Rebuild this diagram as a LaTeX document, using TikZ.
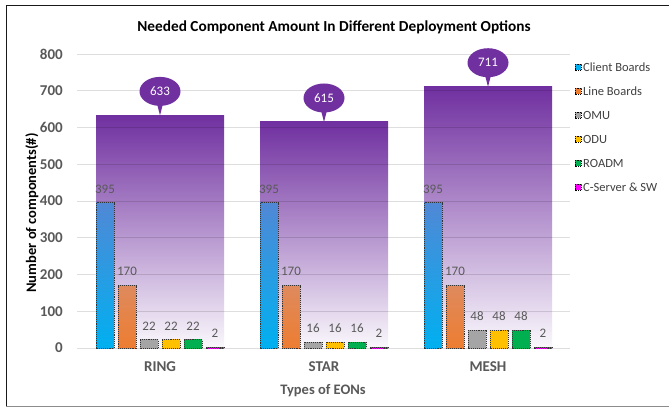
\documentclass[tikz,border=0pt]{standalone}
\usepackage{fontspec}
\setmainfont{Carlito}
\usetikzlibrary{shapes.callouts}

\definecolor{totViolet}{HTML}{7030A0}
\definecolor{totMid}{HTML}{C6B0DC}
\definecolor{totLow}{HTML}{FAF8FC}
\definecolor{txtGray}{HTML}{595959}
\definecolor{lblGray}{HTML}{404040}
\definecolor{clientTop}{HTML}{5088D6}
\definecolor{clientLow}{HTML}{00B0F0}
\definecolor{lineTop}{HTML}{DE8A5E}
\definecolor{lineLow}{HTML}{ED7D31}
\definecolor{omuCol}{HTML}{A5A5A5}
\definecolor{oduCol}{HTML}{FFC000}
\definecolor{roadmCol}{HTML}{00B050}
\definecolor{srvCol}{HTML}{FF00FF}

\tikzset{
  gridln/.style={draw=black, opacity=0.13, line width=0.9pt},
  ticklbl/.style={anchor=east, text=txtGray, inner sep=0pt,
    font=\bfseries\fontsize{15}{18}\selectfont},
  catlbl/.style={text=txtGray, inner sep=0pt, font=\bfseries\fontsize{15}{18}\selectfont},
  axttl/.style={inner sep=0pt, font=\bfseries\fontsize{14.5}{17}\selectfont},
  datalbl/.style={text=txtGray, inner sep=0pt, font=\fontsize{13}{15}\selectfont},
  legtxt/.style={anchor=west, text=lblGray, inner sep=0pt, font=\fontsize{12.5}{14}\selectfont},
  totbar/.style={top color=totViolet, middle color=totMid, bottom color=totLow},
  barrim/.style={draw=black!80, densely dotted, line width=0.9pt},
  bubble/.style={ellipse callout, fill=totViolet, text=white, inner sep=0pt,
    minimum width=41pt, minimum height=29pt, callout pointer arc=14,
    font=\fontsize{13}{15}\selectfont},
  bar0/.style={top color=clientTop, bottom color=clientLow},
  bar1/.style={top color=lineTop, bottom color=lineLow},
  bar2/.style={top color=omuCol, bottom color=omuCol},
  bar3/.style={top color=oduCol, bottom color=oduCol},
  bar4/.style={top color=roadmCol, bottom color=roadmCol},
  bar5/.style={top color=srvCol, bottom color=srvCol},
  key0/.style={fill=clientLow}, key1/.style={fill=lineLow},
  key2/.style={fill=omuCol},    key3/.style={fill=oduCol},
  key4/.style={fill=roadmCol},  key5/.style={fill=srvCol},
}

\begin{document}
\begin{tikzpicture}[x=1pt,y=-1pt]
\useasboundingbox (0,0) rectangle (669,407);
\fill[white] (0,0) rectangle (669,407);

% chart frame
\draw[black!90, line width=0.9pt] (6,406) -- (6,5) -- (670,5);
\draw[black!45, line width=0.9pt] (6,406) -- (670,406);

% title
\node[font=\bfseries\fontsize{15.3}{18}\selectfont] (title) at (334,27) {Needed Component Amount In Different Deployment Options};

% value axis labels
\foreach \v in {0,100,...,800}
  \node[ticklbl] (tick\v) at (63,{348-0.3675*\v}) {\v};

% totals drawn as wide shaded columns
\foreach \c/\t [count=\i] in {160/633, 324/615, 488/711} {
  \shade[totbar] (\c-64,{348-0.3675*\t}) rectangle (\c+64,348);
}

% grid lines over the totals
\foreach \v in {0,100,...,800}
  \draw[gridln] (77,{348-0.3675*\v}) -- (570,{348-0.3675*\v});

% total callouts
\foreach \c/\t [count=\i] in {160/633, 324/615, 488/711} {
  \coordinate (tot\i) at (\c,{348-0.3675*\t});
  \node[bubble, callout absolute pointer={(tot\i)}] (call\i) at (\c,{348-0.3675*\t-24}) {\t};
}

% component columns with value labels
\foreach \c/\vals/\nm in {160/{395,170,22,22,22,2}/ring, 324/{395,170,16,16,16,2}/star, 488/{395,170,48,48,48,2}/mesh} {
  \foreach \v [count=\k from 0] in \vals {
    \pgfmathsetmacro{\xl}{\c-64+22*\k}
    \pgfmathsetmacro{\yt}{348-0.3675*\v}
    \shade[bar\k] (\xl,\yt) rectangle (\xl+18,348);
    \draw[barrim] (\xl,\yt) rectangle (\xl+18,348);
    \node[datalbl] (val-\nm-\k) at (\xl+9,\yt-14) {\v};
  }
  \node[catlbl] (cat-\nm) at (\c,367) {\MakeUppercase{\nm}};
}

% axis titles
\node[axttl, rotate=90] (ytitle) at (32,213) {Number of components(\#)};
\node[axttl, text=txtGray] (xtitle) at (323,391) {Types of EONs};

% legend
\foreach \lab [count=\k from 0] in {Client Boards, Line Boards, OMU, ODU, ROADM, C-Server \& SW} {
  \pgfmathsetmacro{\ly}{67+24*\k}
  \draw[key\k, draw=black, densely dotted, line width=0.8pt] (575,\ly-3) rectangle (581,\ly+3);
  \node[legtxt] (key-\k) at (583,\ly) {\lab};
}
\end{tikzpicture}
\end{document}
